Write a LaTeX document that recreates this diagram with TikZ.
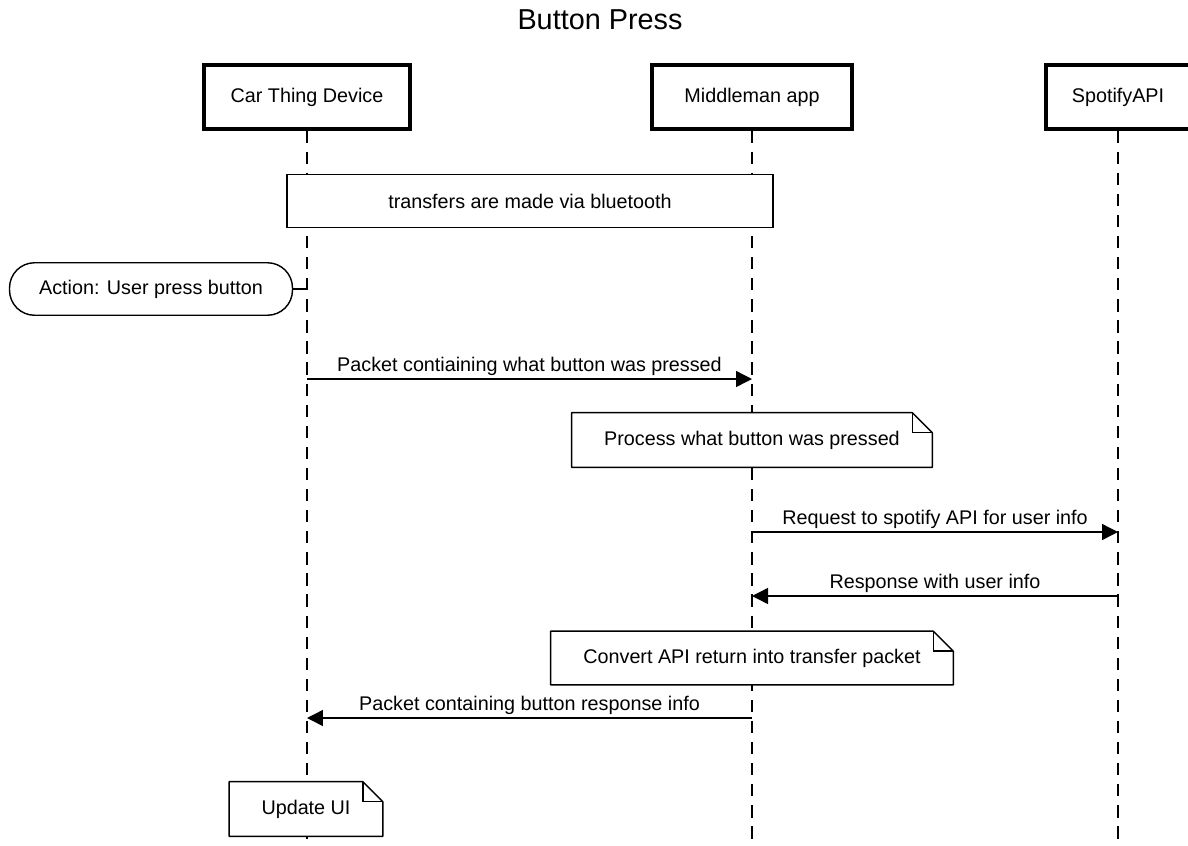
\documentclass[tikz,border=0pt]{standalone}
\usepackage{fontspec}
\setmainfont{Liberation Sans}
\usetikzlibrary{arrows.meta}

\begin{document}
\begin{tikzpicture}[x=0.02cm, y=-0.02cm, font=\fontsize{11.25}{13}\selectfont,
	actor/.style={draw, line width=1.8pt, minimum height=1.28cm},
	box/.style={draw, fill=white, line width=0.8pt, minimum height=1.05cm},
	life/.style={line width=0.8pt, dash pattern=on 7pt off 5pt},
	msg/.style={line width=0.8pt, -{Triangle[length=3.2mm, width=3.2mm]}},
	l/.style={anchor=base, yshift=4.5pt}]
	\useasboundingbox (0,0) rectangle (1188,846);
	\node (title) at (600,20) {\fontsize{16.4}{19}\selectfont Button Press};

	% participants
	\node[actor, minimum width=4.12cm] (car) at (307,97) {Car Thing Device};
	\node[actor, minimum width=4cm] (mid) at (752,97) {Middleman app};
	\node[actor, minimum width=2.88cm] (api) at (1118,97) {SpotifyAPI};
	\foreach \p in {car,mid,api} {
		\coordinate (\p-end) at (\p |- 0,850);
		\draw[life] (\p.south) -- (\p-end);
	}

	\node[box, minimum width=9.72cm] (blue) at (530,201) {transfers are made via bluetooth};
	\node[box, rounded corners=0.5cm, minimum width=5.66cm] (act) at (151,289) {Action: User press button};
	\draw[line width=0.8pt] (act.east) -- (act -| car);

	% messages
	\draw[msg] (car |- 0,379) --node[l]{Packet contiaining what button was pressed} (mid |- 0,379);
	\draw[msg] (mid |- 0,532) --node[l]{Request to spotify API for user info} (api |- 0,532);
	\draw[msg] (api |- 0,596) --node[l]{Response with user info} (mid |- 0,596);
	\draw[msg] (mid |- 0,718) --node[l]{Packet containing button response info} (car |- 0,718);

	% notes
	\node[minimum height=1.08cm, minimum width=7.2cm, fill=white] (proc) at (752,440) {Process what button was pressed};
	\node[minimum height=1.06cm, minimum width=8.04cm, fill=white] (conv) at (752,658) {Convert API return into transfer packet};
	\node[minimum height=1.08cm, minimum width=3.06cm, fill=white] (upd) at (306,809) {Update UI};
	\foreach \n in {proc,conv,upd} {
		\draw[line width=0.8pt, line join=round] (\n.south west) -- (\n.north west) -- ([xshift=-4mm]\n.north east)
			-- ([yshift=-4mm]\n.north east) -- (\n.south east) -- cycle;
		\draw[line width=0.8pt] ([xshift=-4mm]\n.north east) |- ([yshift=-4mm]\n.north east);
	}
\end{tikzpicture}
\end{document}
